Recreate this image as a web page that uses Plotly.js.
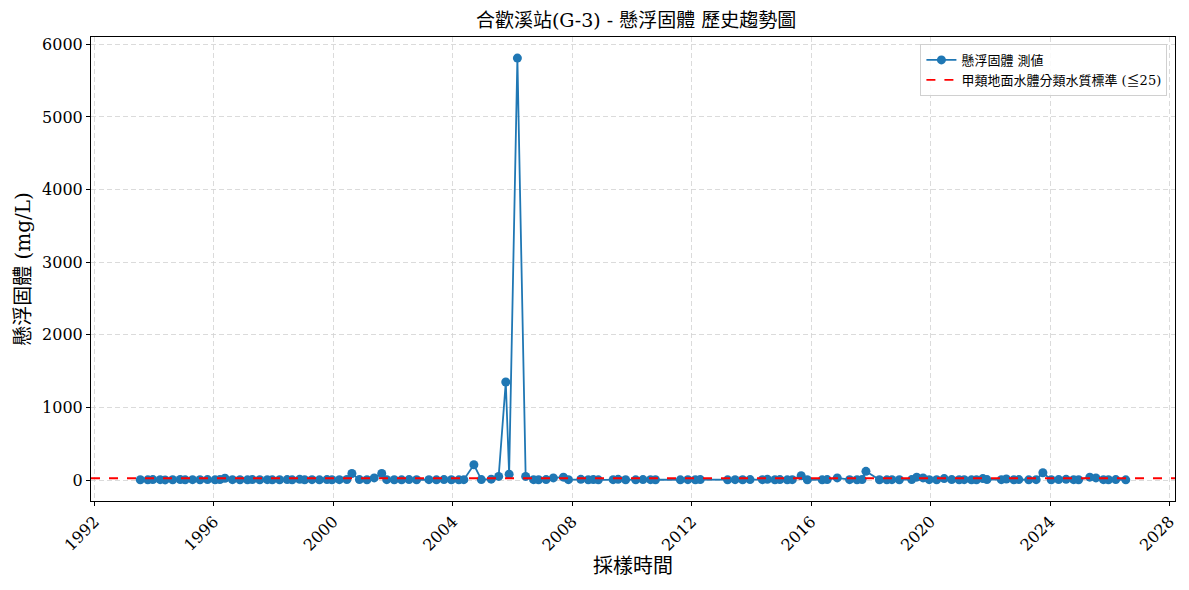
<!DOCTYPE html>
<html><head><meta charset="utf-8">
<script src="https://cdn.plot.ly/plotly-3.0.1.min.js"></script>
<style>html,body{margin:0;padding:0;background:#fff}#chart{width:1189px;height:590px}</style>
</head><body><div id="chart"></div>
<script>
const dates = ["1993-07-15","1993-10-15","1993-12-15","1994-03-15","1994-05-15","1994-08-15","1994-11-15","1995-01-15","1995-04-15","1995-07-15","1995-10-15","1996-01-15","1996-03-15","1996-05-15","1996-08-15","1996-11-15","1997-02-15","1997-04-15","1997-07-15","1997-10-15","1997-12-15","1998-03-15","1998-06-15","1998-08-15","1998-11-15","1999-01-15","1999-04-15","1999-07-15","1999-10-15","1999-12-15","2000-03-15","2000-06-15","2000-08-15","2000-11-15","2001-02-15","2001-05-15","2001-08-15","2001-10-15","2002-01-15","2002-04-15","2002-07-15","2002-10-15","2003-03-15","2003-06-15","2003-09-15","2003-12-15","2004-03-15","2004-05-15","2004-09-15","2004-12-15","2005-04-15","2005-07-15","2005-10-10","2005-11-20","2006-03-01","2006-06-10","2006-09-15","2006-11-15","2007-02-15","2007-05-15","2007-09-15","2007-11-15","2008-04-15","2008-07-15","2008-09-15","2008-11-15","2009-05-15","2009-07-15","2009-10-15","2010-02-15","2010-05-15","2010-08-15","2010-10-15","2011-08-15","2011-11-15","2012-02-15","2012-04-15","2013-03-15","2013-06-15","2013-09-15","2013-12-15","2014-05-15","2014-07-15","2014-10-15","2014-12-15","2015-03-15","2015-05-15","2015-09-01","2015-11-15","2016-05-15","2016-07-15","2016-11-15","2017-04-15","2017-07-15","2017-09-15","2017-11-01","2018-04-15","2018-07-15","2018-09-15","2018-12-15","2019-05-15","2019-07-15","2019-10-01","2019-12-15","2020-03-15","2020-06-15","2020-09-15","2020-12-15","2021-02-15","2021-05-15","2021-07-15","2021-10-01","2021-11-20","2022-05-15","2022-07-15","2022-10-15","2022-12-15","2023-04-15","2023-07-15","2023-10-05","2024-01-15","2024-04-15","2024-07-15","2024-10-15","2024-12-15","2025-05-01","2025-07-15","2025-10-15","2025-12-15","2026-03-15","2026-07-15"];
const ssValues = [4,3,6,5,2,4,8,3,5,4,6,3,7,25,5,4,3,6,4,5,3,4,6,3,10,4,5,3,6,4,5,8,90,6,4,30,90,5,4,3,6,4,5,3,6,4,3,5,210,6,12,50,1350,80,5810,50,5,4,6,30,40,5,10,4,6,3,5,10,4,3,6,5,4,3,5,4,6,3,5,4,6,5,10,4,6,3,5,60,4,3,6,30,5,4,6,120,4,3,5,4,6,40,30,5,4,20,6,4,5,3,4,20,6,5,15,4,6,3,5,100,4,6,10,5,4,40,30,5,4,6,3];
const seriesName = "懸浮固體 測値";
const standardName = "甲類地面水體分類水質標準 (≦25)";
const standardValue = 25;
const chartTitle = "合歡溪站(G-3) - 懸浮固體 歷史趨勢圖";
const xTitle = "採樣時間";
const yTitle = "懸浮固體 (mg/L)";

const FONT = "DejaVu Serif, Noto Sans CJK TC, serif";
const t = dates.map(d => new Date(d + "T00:00:00Z").getTime());
const tmin = Math.min(...t), tmax = Math.max(...t), pad = (tmax - tmin) * 0.05;
const iso = ms => new Date(ms).toISOString().slice(0, 10);
const vmax = Math.max(...ssValues), vmin = Math.min(...ssValues);
const vpad = (vmax - vmin) * 0.05;

const traces = [{
  x: dates, y: ssValues, type: "scatter", mode: "lines+markers", name: seriesName,
  line: {color: "#1f77b4", width: 1.8},
  marker: {color: "#1f77b4", size: 9}
}];

const layout = {
  width: 1189, height: 590,
  margin: {l: 91, r: 14, t: 37, b: 89},
  paper_bgcolor: "#fff", plot_bgcolor: "#fff",
  font: {family: FONT, size: 16, color: "#000"},
  title: {text: chartTitle, x: 0.535, xanchor: "center", y: 0.965, yanchor: "middle", font: {family: FONT, size: 19}},
  xaxis: {
    type: "date", range: [iso(tmin - pad), iso(tmax + pad)],
    tick0: "1992-01-01", dtick: "M48", tickformat: "%Y", tickangle: -45,
    ticks: "outside", ticklen: 4, tickcolor: "#000",
    showline: true, linecolor: "#000", linewidth: 1, mirror: true,
    showgrid: true, gridcolor: "#d2d2d2", griddash: "5px,3px", gridwidth: 0.8,
    zeroline: false,
    title: {text: xTitle, font: {family: FONT, size: 20}, standoff: 2}
  },
  yaxis: {
    range: [vmin - vpad, vmax + vpad], dtick: 1000,
    ticks: "outside", ticklen: 4, tickcolor: "#000",
    showline: true, linecolor: "#000", linewidth: 1, mirror: true,
    showgrid: true, gridcolor: "#d2d2d2", griddash: "5px,3px", gridwidth: 0.8,
    zeroline: false,
    title: {text: yTitle, font: {family: FONT, size: 20}, standoff: 6}
  },
  shapes: [{
    type: "line", xref: "paper", x0: 0, x1: 1, yref: "y", y0: standardValue, y1: standardValue,
    line: {color: "red", width: 1.8, dash: "dash"},
    showlegend: true, name: standardName
  }],
  legend: {
    x: 0.993, y: 0.985, xanchor: "right", yanchor: "top",
    bgcolor: "rgba(255,255,255,0.85)", bordercolor: "#d0d0d0", borderwidth: 1,
    font: {family: FONT, size: 13}, tracegroupgap: 0
  },
  showlegend: true
};

Plotly.newPlot("chart", traces, layout, {displayModeBar: false, staticPlot: true});
</script></body></html>
